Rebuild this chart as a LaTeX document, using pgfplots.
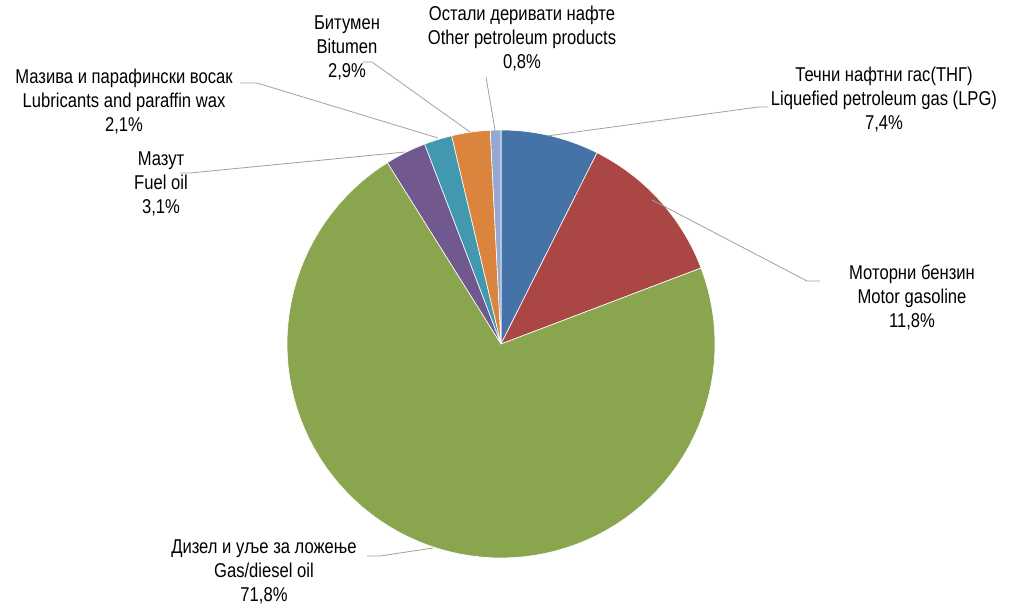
\documentclass[border=0pt]{standalone}
\usepackage{pgfplots}
\pgfplotsset{compat=1.18}
\usepackage{fontspec}
\setmainfont{Liberation Sans}[FakeStretch=0.83]
\definecolor{cLPG}{HTML}{4572A7}
\definecolor{cMot}{HTML}{AA4643}
\definecolor{cDie}{HTML}{89A54E}
\definecolor{cFue}{HTML}{71588F}
\definecolor{cLub}{HTML}{4198AF}
\definecolor{cBit}{HTML}{DB843D}
\definecolor{cOth}{HTML}{93A9CF}
\definecolor{lead}{HTML}{A0A0A0}
\tikzset{lbl/.style={font=\fontsize{20}{24}\selectfont, align=center, text=black, inner sep=0pt}}
% slice: #1 cumulative start (%), #2 value (%), #3 colour
\newcommand{\slice}[3]{%
  \addplot[fill=#3, draw=white, line width=0.6pt, samples=90, variable=\t,
    domain={90-(#1+#2)*360/99.9}:{90-(#1)*360/99.9}]
    ({501+214*cos(\t)},{344-214*sin(\t)}) -- (axis cs:501,344) -- cycle;}
\begin{document}
\begin{tikzpicture}
\begin{axis}[
  scale only axis, width=1032pt, height=610pt,
  xmin=0, xmax=1032, ymin=0, ymax=610, y dir=reverse,
  hide axis, clip=false]
\path (axis cs:0,0) rectangle (axis cs:1032,610);
% shares (%): LPG 7.4, motor gasoline 11.8, gas/diesel 71.8, fuel oil 3.1,
% lubricants 2.1, bitumen 2.9, other 0.8
\slice{0}{7.4}{cLPG}
\slice{7.4}{11.8}{cMot}
\slice{19.2}{71.8}{cDie}
\slice{91.0}{3.1}{cFue}
\slice{94.1}{2.1}{cLub}
\slice{96.2}{2.9}{cBit}
\slice{99.1}{0.8}{cOth}
% leader lines
\draw[lead, line width=0.8pt] (axis cs:768,107) -- (axis cs:758,107) -- (axis cs:547,136);
\draw[lead, line width=0.8pt] (axis cs:820,281) -- (axis cs:807,281) -- (axis cs:652,200);
\draw[lead, line width=0.8pt] (axis cs:367,556) -- (axis cs:380,556) -- (axis cs:433,548);
\draw[lead, line width=0.8pt] (axis cs:180,173) -- (axis cs:190,173) -- (axis cs:405,152);
\draw[lead, line width=0.8pt] (axis cs:240,83) -- (axis cs:257,83) -- (axis cs:438,138);
\draw[lead, line width=0.8pt] (axis cs:363,62) -- (axis cs:372,62) -- (axis cs:470,132);
\draw[lead, line width=0.8pt] (axis cs:486,77) -- (axis cs:495,130);
% labels
\node[lbl] at (axis cs:884,100) {Течни нафтни гас(ТНГ)\\Liquefied petroleum gas (LPG)\\7,4\%};
\node[lbl] at (axis cs:912,297) {Моторни бензин\\Motor gasoline\\11,8\%};
\node[lbl] at (axis cs:264,572) {Дизел и уље за ложење\\Gas/diesel oil\\71,8\%};
\node[lbl] at (axis cs:161,184) {Мазут\\Fuel oil\\3,1\%};
\node[lbl] at (axis cs:124,102) {Мазива и парафински восак\\Lubricants and paraffin wax\\2,1\%};
\node[lbl] at (axis cs:347,48) {Битумен\\Bitumen\\2,9\%};
\node[lbl] at (axis cs:522,39) {Остали деривати нафте\\Other petroleum products\\0,8\%};
\end{axis}
\end{tikzpicture}
\end{document}
